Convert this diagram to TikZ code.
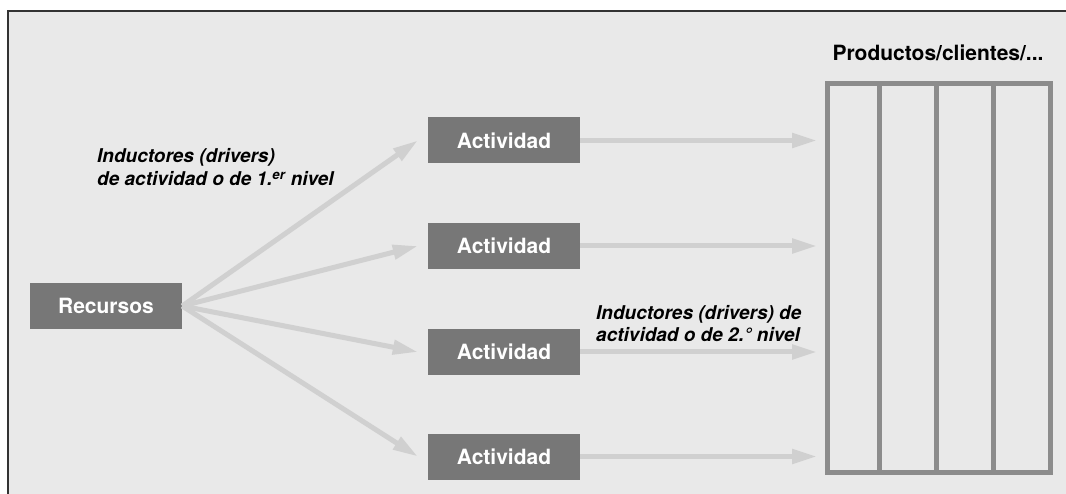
\documentclass[tikz,border=0pt]{standalone}
\usepackage{fontspec}
\setmainfont{TeX Gyre Heros}
\usetikzlibrary{arrows.meta, positioning, calc}
\definecolor{boxgray}{HTML}{777777}
\definecolor{arrowgray}{HTML}{D0D0D0}
\definecolor{bggray}{HTML}{E9E9E9}
\definecolor{colgray}{HTML}{8C8C8C}
\tikzset{
  costnode/.style={
    rectangle, inner sep=0pt,
    minimum width=152pt, minimum height=46pt,
    text centered, font=\fontsize{21}{25}\selectfont\bfseries,
    fill=boxgray, text=white
  },
  costarrow/.style={-{Triangle[length=25pt, width=14pt]}, line width=5pt, color=arrowgray},
  drivertext/.style={
    align=left, inner sep=0pt,
    font=\fontsize{19}{23}\selectfont\bfseries\itshape, text=black
  },
  colline/.style={draw=colgray, line width=5pt},
}

\begin{document}
\begin{tikzpicture}[x=1pt, y=-1pt]
  \useasboundingbox (0,0) rectangle (1066,494);
  \fill[bggray] (8,11) rectangle (1066,494);
  \draw[line width=1.5pt, black!80] (8,494) -- (8,11) -- (1066,11);

  \node[costnode](rec) at (106,306)   {Recursos};
  \node[costnode](a1)  at (504,140.5) {Actividad};
  \node[costnode](a2)  at (504,246)   {Actividad};
  \node[costnode](a3)  at (504,352)   {Actividad};
  \node[costnode](a4)  at (504,456.5) {Actividad};

  \node[colline, minimum width=223pt, minimum height=388pt, inner sep=0pt](prod) at (939,278) {};
  \foreach \cx in {879,936,993}
    \draw[colline] (\cx,84) -- (\cx,474);
  \node[font=\fontsize{21}{25}\selectfont\bfseries, anchor=base](ptitle) at (938,61) {Productos/clientes/...};

  \node[drivertext, anchor=base west](drv1) at (97,186) {Inductores (drivers)\\de actividad o de 1.\textsuperscript{er} nivel};
  \node[drivertext, anchor=base west](drv2) at (596,342) {Inductores (drivers) de\\actividad o de 2.° nivel};

  \foreach \a in {a1,a2,a3,a4}
    \draw[costarrow] (rec.east) -- ([xshift=-10pt]\a.west);
  \foreach \a in {a1,a2,a3,a4}
    \draw[costarrow] (\a.east) -- ($(\a.east -| prod.west)+(-8,0)$);
\end{tikzpicture}
\end{document}
